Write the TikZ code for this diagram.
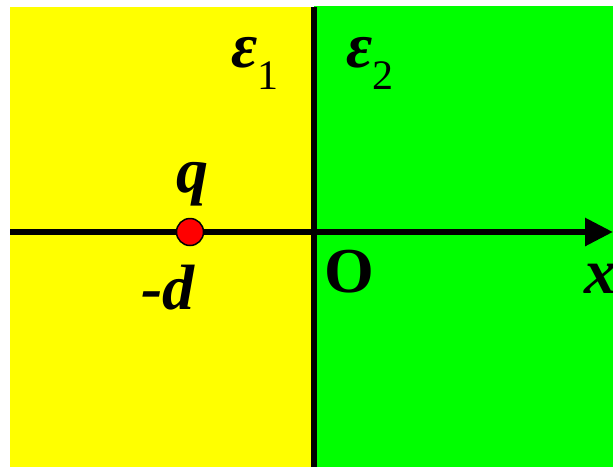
\documentclass[tikz,border=0pt]{standalone}
\usepackage{fontspec}
\setmainfont{Liberation Serif}
\usepackage{tikz}
\usetikzlibrary{calc, positioning, arrows.meta}
\definecolor{mediumone}{HTML}{FFFF00}
\definecolor{mediumtwo}{HTML}{00FF00}
\definecolor{chargered}{HTML}{FF0000}
\newcommand{\fsBig}{\fontsize{64}{68}\selectfont}
\newcommand{\fsSub}{\fontsize{42}{46}\selectfont}

\begin{document}
\begin{tikzpicture}[x=1pt, y=-1pt,
    lbl/.style={font=\fsBig\bfseries\itshape, inner sep=0pt, anchor=base},
    epslbl/.style={font=\fsBig\bfseries\itshape, inner sep=0pt, anchor=base},
    axisline/.style={line width=6pt, -{Triangle[length=28pt, width=27pt]}},
    wall/.style={line width=6pt}]
  \useasboundingbox (0,0) rectangle (613,467);
  % the two media
  \fill[mediumone] (10,7) rectangle (314,467);
  \fill[mediumtwo] (314,6) rectangle (613,467);
  % interface and x axis
  \coordinate (wallTop) at (314,7);
  \coordinate (wallBot) at (314,467);
  \coordinate (axL) at (10,232);
  \coordinate (axR) at (613,232);
  \draw[wall] (wallTop) -- (wallBot);
  \draw[axisline] (axL) -- (axR);
  % point charge
  \node[circle, fill=chargered, draw=black, line width=1.5pt,
        minimum size=27pt, inner sep=0pt] (charge) at (190,232) {};
  \node[lbl] (qlbl) at (192,192) {q};
  \node[lbl] (dlbl) at (168,309) {-d};
  \node[lbl, font=\fsBig\bfseries] (origin) at (349,292) {O};
  \node[lbl] (xlbl) at (600,293) {x};
  % permittivities
  \node[epslbl] (eps1) at (255,67) {ε\raisebox{-22pt}{\fsSub\upshape\mdseries 1}};
  \node[epslbl] (eps2) at (370,67) {ε\raisebox{-22pt}{\fsSub\upshape\mdseries 2}};
\end{tikzpicture}
\end{document}
